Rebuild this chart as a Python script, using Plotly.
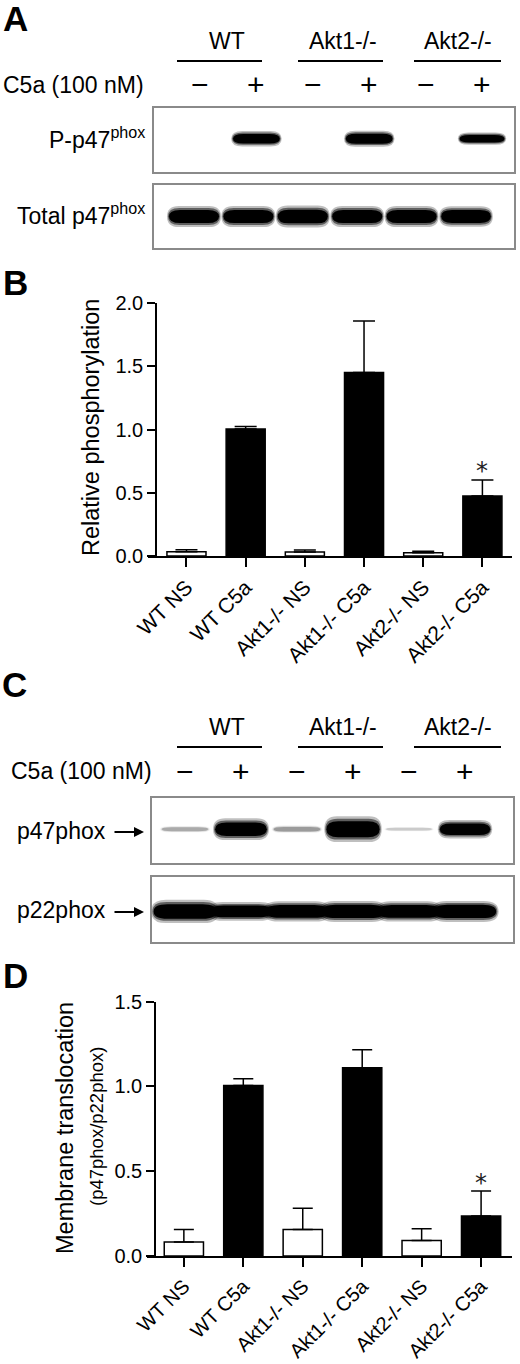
import plotly.graph_objects as go

W, H = 520, 1364
FONT = "Liberation Sans, Arial, Helvetica, sans-serif"


def fx(p):
    return p / W


def fy(p):
    return 1 - p / H


# ---------------- data ----------------
categories = ["WT NS", "WT C5a", "Akt1-/- NS", "Akt1-/- C5a", "Akt2-/- NS", "Akt2-/- C5a"]
stimulated = [False, True, False, True, False, True]

phos_mean = [0.034, 1.003, 0.032, 1.451, 0.026, 0.475]
phos_sem = [0.016, 0.021, 0.015, 0.406, 0.011, 0.125]
phos_sig = ["", "", "", "", "", "*"]

trans_mean = [0.083, 1.005, 0.157, 1.111, 0.092, 0.236]
trans_sem = [0.074, 0.041, 0.124, 0.106, 0.069, 0.147]
trans_sig = ["", "", "", "", "", "*"]

genotypes = ["WT", "Akt1-/-", "Akt2-/-"]
c5a_signs = ["\u2212", "+", "\u2212", "+", "\u2212", "+"]
lanes = [0, 1, 2, 3, 4, 5]

# relative band intensities read from the blots
blot_A_phospho = [0.0, 1.0, 0.0, 1.05, 0.0, 0.72]
blot_A_total = [1.0, 1.0, 1.05, 1.0, 1.0, 0.95]
blot_C_p47 = [0.14, 0.82, 0.17, 1.05, 0.08, 0.65]
blot_C_p22 = [1.1, 0.8, 0.9, 0.95, 0.9, 0.95]

fig = go.Figure()

# ---------------- bar charts ----------------
bar_colors = ["black" if s else "white" for s in stimulated]

fig.add_trace(go.Bar(
    x=categories, y=phos_mean, width=0.66,
    marker=dict(color=bar_colors, line=dict(color="black", width=1.5)),
    error_y=dict(type="data", symmetric=False, array=phos_sem,
                 arrayminus=[0] * len(phos_sem), color="black", thickness=1.5, width=11),
    xaxis="x", yaxis="y", showlegend=False, hoverinfo="skip",
))
fig.add_trace(go.Bar(
    x=categories, y=trans_mean, width=0.66,
    marker=dict(color=bar_colors, line=dict(color="black", width=1.5)),
    error_y=dict(type="data", symmetric=False, array=trans_sem,
                 arrayminus=[0] * len(trans_sem), color="black", thickness=1.5, width=10),
    xaxis="x2", yaxis="y2", showlegend=False, hoverinfo="skip",
))

annotations = []
shapes = []

# significance stars
for cat, m, e, s in zip(categories, phos_mean, phos_sem, phos_sig):
    if s:
        annotations.append(dict(x=cat, y=m + e, xref="x", yref="y", text=s, showarrow=False,
                                yanchor="bottom", yshift=-7,
                                font=dict(family="DejaVu Sans", size=24, color="#222222")))
for cat, m, e, s in zip(categories, trans_mean, trans_sem, trans_sig):
    if s:
        annotations.append(dict(x=cat, y=m + e, xref="x2", yref="y2", text=s, showarrow=False,
                                yanchor="bottom", yshift=-8,
                                font=dict(family="DejaVu Sans", size=24, color="#222222")))


# ---------------- blots ----------------
def band_path(xc, yc, w, h):
    l, r = xc - w / 2, xc + w / 2
    b, t = yc - h / 2, yc + h / 2
    rx = w * 0.22
    return (f"M {l + rx},{b} L {r - rx},{b} Q {r},{b} {r},{yc} Q {r},{t} {r - rx},{t} "
            f"L {l + rx},{t} Q {l},{t} {l},{yc} Q {l},{b} {l + rx},{b} Z")


def add_bands(xref, yref, intens, yc, w, h, wide=1.0):
    layers = [(1.08, 1.6, 0.25), (1.04, 1.28, 0.5), (1.0, 1.0, 1.0)]
    for lane, val in zip(lanes, intens):
        if val <= 0:
            continue
        hh = h * min(val, 1.1) ** 0.7
        ww = w * wide * (0.85 + 0.15 * min(val, 1.0))
        op_core = min(1.0, 1.5 * val)
        for sw, sh, op in layers:
            shapes.append(dict(type="path", xref=xref, yref=yref,
                               path=band_path(lane, yc, ww * sw, hh * sh),
                               fillcolor="black", opacity=min(1.0, op * op_core),
                               line=dict(width=0), layer="above"))


add_bands("x3", "y3", blot_A_phospho, 0.52, 0.83, 0.15)
add_bands("x4", "y4", blot_A_total, 0.5, 0.92, 0.21)
add_bands("x5", "y5", blot_C_p47, 0.52, 0.95, 0.24)
add_bands("x6", "y6", blot_C_p22, 0.47, 1.0, 0.21, wide=1.12)

# blot headers (A and C)
for top in (0, 686):
    xref_lane = "x3" if top == 0 else "x5"
    for g, xc in zip(genotypes, [227, 343, 458]):
        annotations.append(dict(x=fx(xc), y=fy(41 + top), xref="paper", yref="paper", text=g,
                                showarrow=False, xanchor="center", yanchor="middle",
                                font=dict(family=FONT, size=23, color="black")))
    for x0, x1 in [(177, 262), (298, 383), (414, 501)]:
        shapes.append(dict(type="line", xref="paper", yref="paper", x0=fx(x0), x1=fx(x1),
                           y0=fy(61 + top), y1=fy(61 + top), line=dict(color="black", width=2)))
    annotations.append(dict(x=fx(146 if top == 0 else 154), y=fy(85 + top), xref="paper", yref="paper",
                            text="C5a (100 nM)", showarrow=False, xanchor="right", yanchor="middle",
                            font=dict(family=FONT, size=23, color="black")))
    for lane, sgn in zip(lanes, c5a_signs):
        annotations.append(dict(x=lane, y=fy(85 + top), xref=xref_lane, yref="paper", text=sgn,
                                showarrow=False, xanchor="center", yanchor="middle",
                                font=dict(family=FONT, size=30, color="black")))

# blot row labels
annotations += [
    dict(x=fx(147), y=fy(138), xref="paper", yref="paper", text="P-p47<sup>phox</sup>",
         showarrow=False, xanchor="right", yanchor="middle", font=dict(family=FONT, size=23)),
    dict(x=fx(147), y=fy(214), xref="paper", yref="paper", text="Total p47<sup>phox</sup>",
         showarrow=False, xanchor="right", yanchor="middle", font=dict(family=FONT, size=23)),
    dict(x=fx(108), y=fy(831), xref="paper", yref="paper", text="p47phox",
         showarrow=False, xanchor="right", yanchor="middle", font=dict(family=FONT, size=23)),
    dict(x=fx(108), y=fy(910), xref="paper", yref="paper", text="p22phox",
         showarrow=False, xanchor="right", yanchor="middle", font=dict(family=FONT, size=23)),
]
for yy in (832, 912):
    annotations.append(dict(x=fx(144), y=fy(yy), ax=-31, ay=0, xref="paper", yref="paper",
                            axref="pixel", ayref="pixel", text="", showarrow=True,
                            arrowhead=2, arrowsize=1, arrowwidth=2, arrowcolor="black"))

# axis titles
annotations += [
    dict(x=fx(91), y=fy(428), xref="paper", yref="paper", text="Relative phosphorylation",
         textangle=-90, showarrow=False, xanchor="center", yanchor="middle",
         font=dict(family=FONT, size=23.5)),
    dict(x=fx(65), y=fy(1128), xref="paper", yref="paper", text="Membrane translocation",
         textangle=-90, showarrow=False, xanchor="center", yanchor="middle",
         font=dict(family=FONT, size=23.5)),
    dict(x=fx(96), y=fy(1127), xref="paper", yref="paper", text="(p47phox/p22phox)",
         textangle=-90, showarrow=False, xanchor="center", yanchor="middle",
         font=dict(family=FONT, size=18.5)),
]

# panel letters
for letter, xc, yc in [("A", 15, 19), ("B", 15, 282), ("C", 14, 684), ("D", 15, 975)]:
    annotations.append(dict(x=fx(xc), y=fy(yc), xref="paper", yref="paper", text=f"<b>{letter}</b>",
                            showarrow=False, xanchor="center", yanchor="middle",
                            font=dict(family=FONT, size=35, color="black")))

# ---------------- layout ----------------
bar_x = dict(showline=True, linecolor="black", linewidth=1.5, ticks="outside", ticklen=9,
             tickwidth=1.5, tickcolor="black", tickangle=-45, showgrid=False, zeroline=False,
             tickfont=dict(family=FONT, size=21, color="black"), automargin=False, fixedrange=True)
bar_y = dict(showline=True, linecolor="black", linewidth=1.5, ticks="outside", ticklen=8,
             tickwidth=1.5, tickcolor="black", showgrid=False, zeroline=False, tickformat=".1f",
             dtick=0.5, tickfont=dict(family=FONT, size=20, color="black"), automargin=False,
             anchor="free", fixedrange=True)
blot_ax = dict(showline=True, mirror=True, linecolor="#8a8a8a", linewidth=2, showgrid=False,
               zeroline=False, showticklabels=False, ticks="", automargin=False, fixedrange=True)

fig.update_layout(
    width=W, height=H, autosize=False,
    margin=dict(l=0, r=0, t=0, b=0),
    paper_bgcolor="white", plot_bgcolor="white",
    font=dict(family=FONT, color="black"),
    bargap=0.34,
    xaxis=dict(bar_x, domain=[fx(148), fx(512)], range=[-0.65, 5.5], anchor="y"),
    yaxis=dict(bar_y, domain=[fy(556), fy(303)], range=[0, 2.0], position=fx(156)),
    xaxis2=dict(bar_x, domain=[fx(147), fx(512)], range=[-0.62, 5.52], anchor="y2",
                tickfont=dict(family=FONT, size=20, color="black")),
    yaxis2=dict(bar_y, domain=[fy(1256), fy(1001.7)], range=[0, 1.5], position=fx(155)),
    xaxis3=dict(blot_ax, domain=[fx(154), fx(514)], range=[-0.816, 5.567], anchor="y3"),
    yaxis3=dict(blot_ax, domain=[fy(172), fy(108)], range=[0, 1], anchor="x3"),
    xaxis4=dict(blot_ax, domain=[fx(154), fx(514)], range=[-0.735, 5.882], anchor="y4"),
    yaxis4=dict(blot_ax, domain=[fy(248), fy(185)], range=[0, 1], anchor="x4"),
    xaxis5=dict(blot_ax, domain=[fx(152), fx(513)], range=[-0.589, 5.857], anchor="y5"),
    yaxis5=dict(blot_ax, domain=[fy(863), fy(798)], range=[0, 1], anchor="x5"),
    xaxis6=dict(blot_ax, domain=[fx(152), fx(513)], range=[-0.589, 5.857], anchor="y6"),
    yaxis6=dict(blot_ax, domain=[fy(942), fy(877)], range=[0, 1], anchor="x6"),
    annotations=annotations,
    shapes=shapes,
)

fig.write_html("out.html", config={"displayModeBar": False},
               post_script="document.body.style.margin='0px';document.body.style.overflow='hidden';")
